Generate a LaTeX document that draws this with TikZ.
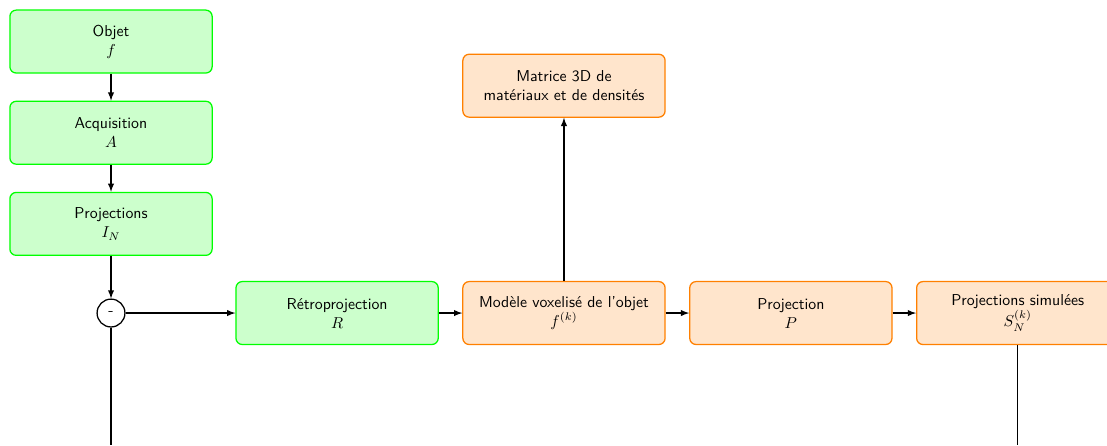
\documentclass[tikz,border=0pt]{standalone}
\usetikzlibrary{positioning,arrows}

\tikzset{
  block/.style     = {shape=rectangle, rounded corners, draw, thick,
                      align=center, font=\sffamily,
                      minimum width=4.5cm, minimum height=1.4cm},
  measured/.style  = {block, draw=green, fill=green!20},
  simulated/.style = {block, draw=orange, fill=orange!20},
  diff/.style      = {circle, draw, thick, minimum size=0.62cm,
                      inner sep=0pt, font=\sffamily}
}

\begin{document}
\begin{tikzpicture}
[
    node distance = 0.6cm and 0.52cm,
    link/.style   = {draw, thick, -latex}
  ]
\useasboundingbox (-2.47,-2.94) rectangle (22.16,6.965);

% colonne des mesures
\node[measured] (objet) at (0,6.04) {Objet\\$f$};
\node[measured, below=of objet] (acq) {Acquisition\\$A$};
\node[measured, below=of acq] (proj) {Projections\\$I_N$};
\node[diff] (diff) at (0,0) {-};

% ligne de reconstruction
\node[measured] (retro) at (5.03,0) {R\'etroprojection\\$R$};
\node[simulated, right=of retro] (modele) {Mod\`ele voxelis\'e de l'objet\\$f^{(k)}$};
\node[simulated, right=of modele] (projsim) {Projection\\$P$};
\node[simulated, right=of projsim] (simul) {Projections simul\'ees\\$S_N^{(k)}$};
\node[simulated, above=3.63cm of modele] (matrice) {Matrice 3D de\\mat\'eriaux et de densit\'es};

\coordinate (diffend) at (0,-2.94);
\coordinate (simulend) at (simul.south |- diffend);

\draw[link] (objet) -- (acq);
\draw[link] (acq) -- (proj);
\draw[link] (proj) -- (diff);
\draw[link] (diff) -- (retro);
\draw[link] (retro) -- (modele);
\draw[link] (modele) -- (projsim);
\draw[link] (projsim) -- (simul);
\draw[link] (modele) -- (matrice);
\draw[thick] (diff) -- (diffend);
\draw[thick] (simul) -- (simulend);
\end{tikzpicture}
\end{document}
